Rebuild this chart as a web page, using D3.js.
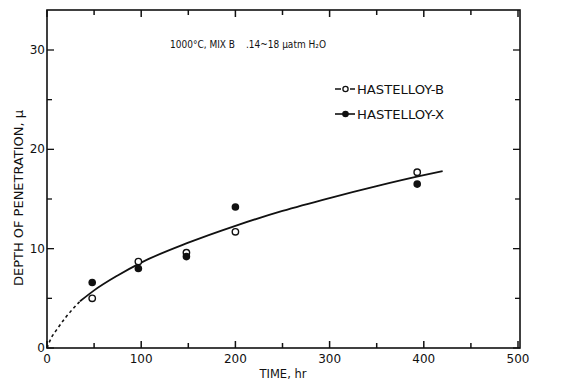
<!DOCTYPE html>
<html><head><meta charset="utf-8">
<script src="https://cdn.jsdelivr.net/npm/d3@7"></script>
<style>
body{margin:0;background:#fff;}
text{font-family:"DejaVu Sans","Liberation Sans",Arial,sans-serif;fill:#111;}
text.narrow{font-family:"Liberation Sans Narrow","DejaVu Sans Condensed",sans-serif;}
</style></head><body>
<svg id="c" width="570" height="383"></svg>
<script>
const timesB = [48, 97, 148, 200, 393];
const hastelloyB = [5.0, 8.7, 9.6, 11.7, 17.7];
const timesX = [48, 97, 148, 200, 393];
const hastelloyX = [6.6, 8.0, 9.2, 14.2, 16.5];
const curveT = [0, 5, 10, 20, 35, 50, 75, 100, 150, 200, 250, 300, 350, 400, 420];
const curveY = [0, 1.1, 1.8, 3.1, 4.7, 5.8, 7.3, 8.6, 10.6, 12.3, 13.8, 15.1, 16.3, 17.4, 17.8];
const xTicks = [0, 100, 200, 300, 400, 500];
const yTicks = [0, 10, 20, 30];
const legendLabels = ["HASTELLOY-B", "HASTELLOY-X"];
const titleParts = ["1000°C, MIX B", ".14~18 μatm H₂O"];

const svg = d3.select("#c");
const L = 47, R = 518, B = 348, T = 10;
const x = d3.scaleLinear().domain([0, 500]).range([L, R]);
const y = d3.scaleLinear().domain([0, 30]).range([B, 50]);

const g = svg.append("g");
g.append("rect").attr("x", L).attr("y", T).attr("width", R + 2 - L).attr("height", B - T)
  .attr("fill", "none").attr("stroke", "#111").attr("stroke-width", 1.6);

d3.range(0, 501, 50).forEach(v => {
  const len = v % 100 === 0 ? 7 : 5;
  g.append("line").attr("x1", x(v)).attr("x2", x(v)).attr("y1", B).attr("y2", B - len).attr("stroke", "#111").attr("stroke-width", 1.5);
  g.append("line").attr("x1", x(v)).attr("x2", x(v)).attr("y1", T).attr("y2", T + len).attr("stroke", "#111").attr("stroke-width", 1.5);
});
d3.range(0, 31, 5).forEach(v => {
  const len = v % 10 === 0 ? 7 : 5;
  g.append("line").attr("x1", L).attr("x2", L + len).attr("y1", y(v)).attr("y2", y(v)).attr("stroke", "#111").attr("stroke-width", 1.3);
  g.append("line").attr("x1", R + 2).attr("x2", R + 2 - len).attr("y1", y(v)).attr("y2", y(v)).attr("stroke", "#111").attr("stroke-width", 1.3);
});
xTicks.forEach(v => {
  g.append("text").attr("x", x(v)).attr("y", B + 15).attr("text-anchor", "middle").attr("font-size", 12).text(v);
});
yTicks.forEach(v => {
  g.append("text").attr("x", L - 2).attr("y", y(v) + 4).attr("text-anchor", "end").attr("font-size", 12).text(v);
});
g.append("text").attr("x", 283).attr("y", 378).attr("text-anchor", "middle").attr("font-size", 11.5).text("TIME, hr");
g.append("text").attr("transform", "translate(23,198) rotate(-90)").attr("text-anchor", "middle").attr("font-size", 11.5)
  .attr("textLength", 176).attr("lengthAdjust", "spacingAndGlyphs").text("DEPTH OF PENETRATION, μ");
g.append("text").attr("class", "narrow").attr("x", 170).attr("y", 48).attr("font-size", 10).text(titleParts[0]);
g.append("text").attr("class", "narrow").attr("x", 246).attr("y", 48).attr("font-size", 10).text(titleParts[1]);

const pts = curveT.map((t, i) => [t, curveY[i]]);
const line = d3.line().x(d => x(d[0])).y(d => y(d[1])).curve(d3.curveMonotoneX);
g.append("path").attr("d", line(pts.filter(d => d[0] <= 35))).attr("fill", "none").attr("stroke", "#111").attr("stroke-width", 1.6).attr("stroke-dasharray", "3,3");
g.append("path").attr("d", line(pts.filter(d => d[0] >= 35))).attr("fill", "none").attr("stroke", "#111").attr("stroke-width", 1.8);

g.selectAll(".b").data(timesB.map((t, i) => [t, hastelloyB[i]])).enter().append("circle")
  .attr("cx", d => x(d[0])).attr("cy", d => y(d[1])).attr("r", 3.2)
  .attr("fill", "#fff").attr("stroke", "#111").attr("stroke-width", 1.4);
g.selectAll(".x").data(timesX.map((t, i) => [t, hastelloyX[i]])).enter().append("circle")
  .attr("cx", d => x(d[0])).attr("cy", d => y(d[1])).attr("r", 3.8).attr("fill", "#111");

const lg = g.append("g");
[0, 1].forEach(i => {
  const ly = 89 + i * 25;
  if (i === 0) {
    lg.append("line").attr("x1", 335).attr("x2", 341).attr("y1", ly).attr("y2", ly).attr("stroke", "#111").attr("stroke-width", 1.5);
    lg.append("line").attr("x1", 350).attr("x2", 355).attr("y1", ly).attr("y2", ly).attr("stroke", "#111").attr("stroke-width", 1.5);
    lg.append("circle").attr("cx", 345.5).attr("cy", ly).attr("r", 2.6).attr("fill", "#fff").attr("stroke", "#111").attr("stroke-width", 1.3);
  } else {
    lg.append("line").attr("x1", 335).attr("x2", 355).attr("y1", ly).attr("y2", ly).attr("stroke", "#111").attr("stroke-width", 1.6);
    lg.append("circle").attr("cx", 345.5).attr("cy", ly).attr("r", 3.3).attr("fill", "#111");
  }
  lg.append("text").attr("x", 357).attr("y", ly + 4.5).attr("font-size", 12.5)
    .attr("textLength", 87).attr("lengthAdjust", "spacingAndGlyphs").text(legendLabels[i]);
});
</script></body></html>
